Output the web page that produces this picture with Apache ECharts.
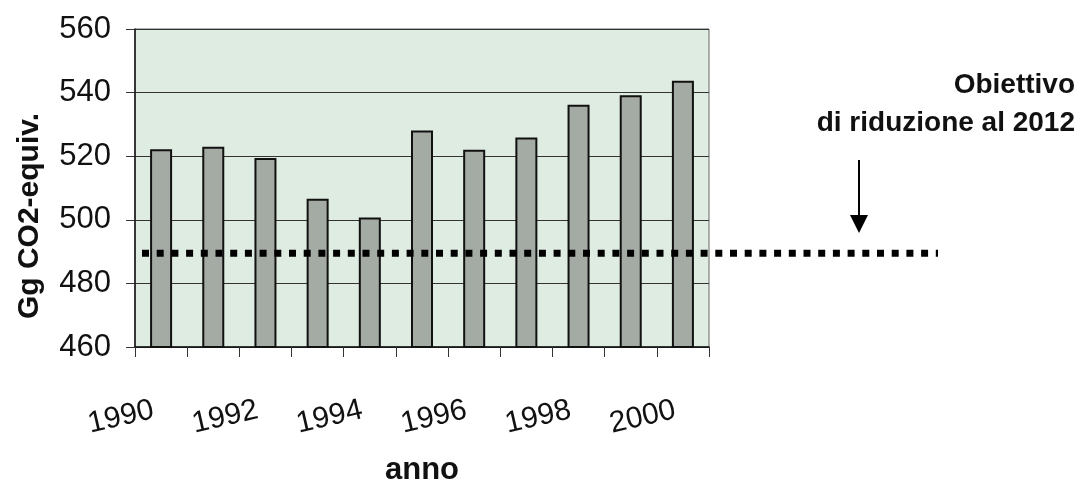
<!DOCTYPE html>
<html>
<head>
<meta charset="utf-8">
<script src="https://cdn.jsdelivr.net/npm/echarts@6/dist/echarts.min.js"></script>
<style>html,body{margin:0;padding:0;background:#fff;}#c{width:1080px;height:489px;}</style>
</head>
<body>
<div id="c"></div>
<script>
const years = ['1990','1991','1992','1993','1994','1995','1996','1997','1998','1999','2000'];
const emissions = [522.2, 523.0, 519.4, 506.6, 500.7, 528.1, 522.0, 525.9, 536.2, 539.2, 543.7];
const target = 489.5;
const yTicks = [460, 480, 500, 520, 540, 560];
const yAxisName = 'Gg CO2-equiv.';
const xAxisName = 'anno';
const noteText = 'Obiettivo\ndi riduzione al 2012';

const chart = echarts.init(document.getElementById('c'), null, {renderer: 'canvas'});
const FONT = '"Liberation Sans", Arial, sans-serif';

chart.setOption({
  animation: false,
  backgroundColor: '#ffffff',
  grid: [
    {left: 135, right: 371, top: 29, bottom: 142, show: true, backgroundColor: '#dfece2', borderColor: '#666', borderWidth: 1, outerBoundsMode: 'none', containLabel: false},
    {left: 142, right: 142, top: 29, bottom: 142, show: false, outerBoundsMode: 'none', containLabel: false}
  ],
  xAxis: [
    {
      type: 'category', data: years, gridIndex: 0, boundaryGap: true,
      name: xAxisName, nameLocation: 'middle', nameGap: 108,
      nameTextStyle: {fontFamily: FONT, fontWeight: 'bold', fontSize: 31, color: '#111'},
      axisLine: {lineStyle: {color: '#111', width: 1.5}},
      axisTick: {show: true, interval: 0, length: 10, lineStyle: {color: '#333'}},
      axisLabel: {interval: 1, rotate: 13, margin: 61, fontFamily: FONT, fontSize: 30, color: '#111', padding: [0, 8, 0, 0]}
    },
    {type: 'value', gridIndex: 1, min: 0, max: 1, show: false}
  ],
  yAxis: [
    {
      type: 'value', gridIndex: 0, min: 460, max: 560, interval: 20,
      name: yAxisName, nameLocation: 'middle', nameGap: 90, nameRotate: 90,
      nameTextStyle: {fontFamily: FONT, fontWeight: 'bold', fontSize: 30, color: '#111', padding: [0, 56, 0, 0]},
      axisLine: {show: true, lineStyle: {color: '#111', width: 1.5}},
      axisTick: {show: true, length: 9, lineStyle: {color: '#333'}},
      axisLabel: {margin: 24, fontFamily: FONT, fontSize: 31, color: '#111',
        formatter: v => yTicks.includes(v) ? String(v) : ''},
      splitLine: {show: true, lineStyle: {color: '#333', width: 1}}
    },
    {type: 'value', gridIndex: 1, min: 460, max: 560, show: false}
  ],
  series: [
    {
      type: 'bar', xAxisIndex: 0, yAxisIndex: 0, data: emissions, barWidth: 22,
      itemStyle: {color: '#a4aba4', borderColor: '#111', borderWidth: 2}
    },
    {
      type: 'line', xAxisIndex: 1, yAxisIndex: 1, symbol: 'none', z: 5,
      data: [[0, target], [1, target]],
      lineStyle: {color: '#000', width: 7, type: [7, 7.7]}
    }
  ],
  graphic: [
    {type: 'text', x: 1075, y: 66, style: {text: noteText, align: 'right', verticalAlign: 'top',
      font: 'bold 28px "Liberation Sans", Arial, sans-serif', lineHeight: 38, fill: '#111'}},
    {type: 'line', shape: {x1: 859, y1: 160, x2: 859, y2: 218}, style: {stroke: '#000', lineWidth: 2}},
    {type: 'polygon', shape: {points: [[850, 215], [868, 215], [859, 233]]}, style: {fill: '#000'}}
  ]
});
</script>
</body>
</html>
